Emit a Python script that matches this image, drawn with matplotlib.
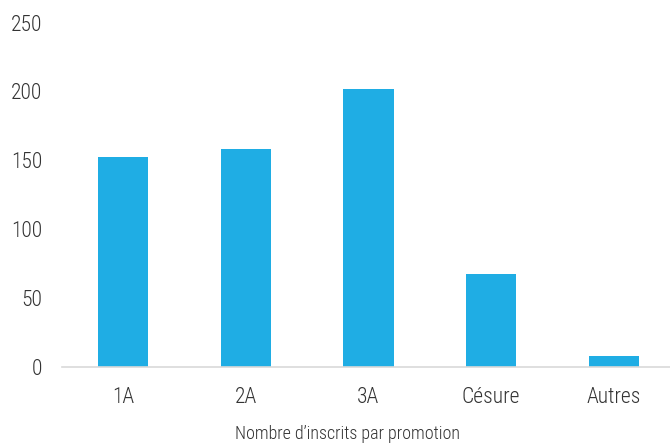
import matplotlib
matplotlib.use("Agg")
import matplotlib.pyplot as plt
from matplotlib import font_manager

categories = ["1A", "2A", "3A", "Césure", "Autres"]
inscrits = [152, 158, 202, 67, 8]
yticks = [0, 50, 100, 150, 200, 250]

names = {f.name for f in font_manager.fontManager.ttflist}
if "Roboto Condensed" in names:
    fam = ["Roboto Condensed", "DejaVu Sans"]
else:
    fam = ["Roboto", "DejaVu Sans"]
plt.rcParams["font.family"] = fam
plt.rcParams["font.weight"] = "light"

fig = plt.figure(figsize=(6.7, 4.44), dpi=100)
ax = fig.add_axes([0.092, 0.1745, 0.916, 0.7745])

ax.bar(range(len(categories)), inscrits, width=0.41, color="#1FADE4", zorder=2)
ax.set_xlim(-0.5, len(categories) - 0.5)
ax.set_ylim(0, 250)
ax.set_yticks(yticks)
ax.set_xticks(range(len(categories)))
ax.set_xticklabels(categories)

for s in ["top", "right", "left"]:
    ax.spines[s].set_visible(False)
ax.spines["bottom"].set_color("#d9d9d9")
ax.spines["bottom"].set_linewidth(1.2)
ax.tick_params(axis="both", length=0, labelsize=15.5, colors="#333333")
ax.tick_params(axis="y", pad=14)
ax.tick_params(axis="x", pad=15)

# titre d'axe place a la main
fig.text(0.518, 0.022, "Nombre d’inscrits par promotion", fontsize=13, color="#333333",
         ha="center", va="center", fontweight="light")

fig.savefig("out.png", dpi=100)
